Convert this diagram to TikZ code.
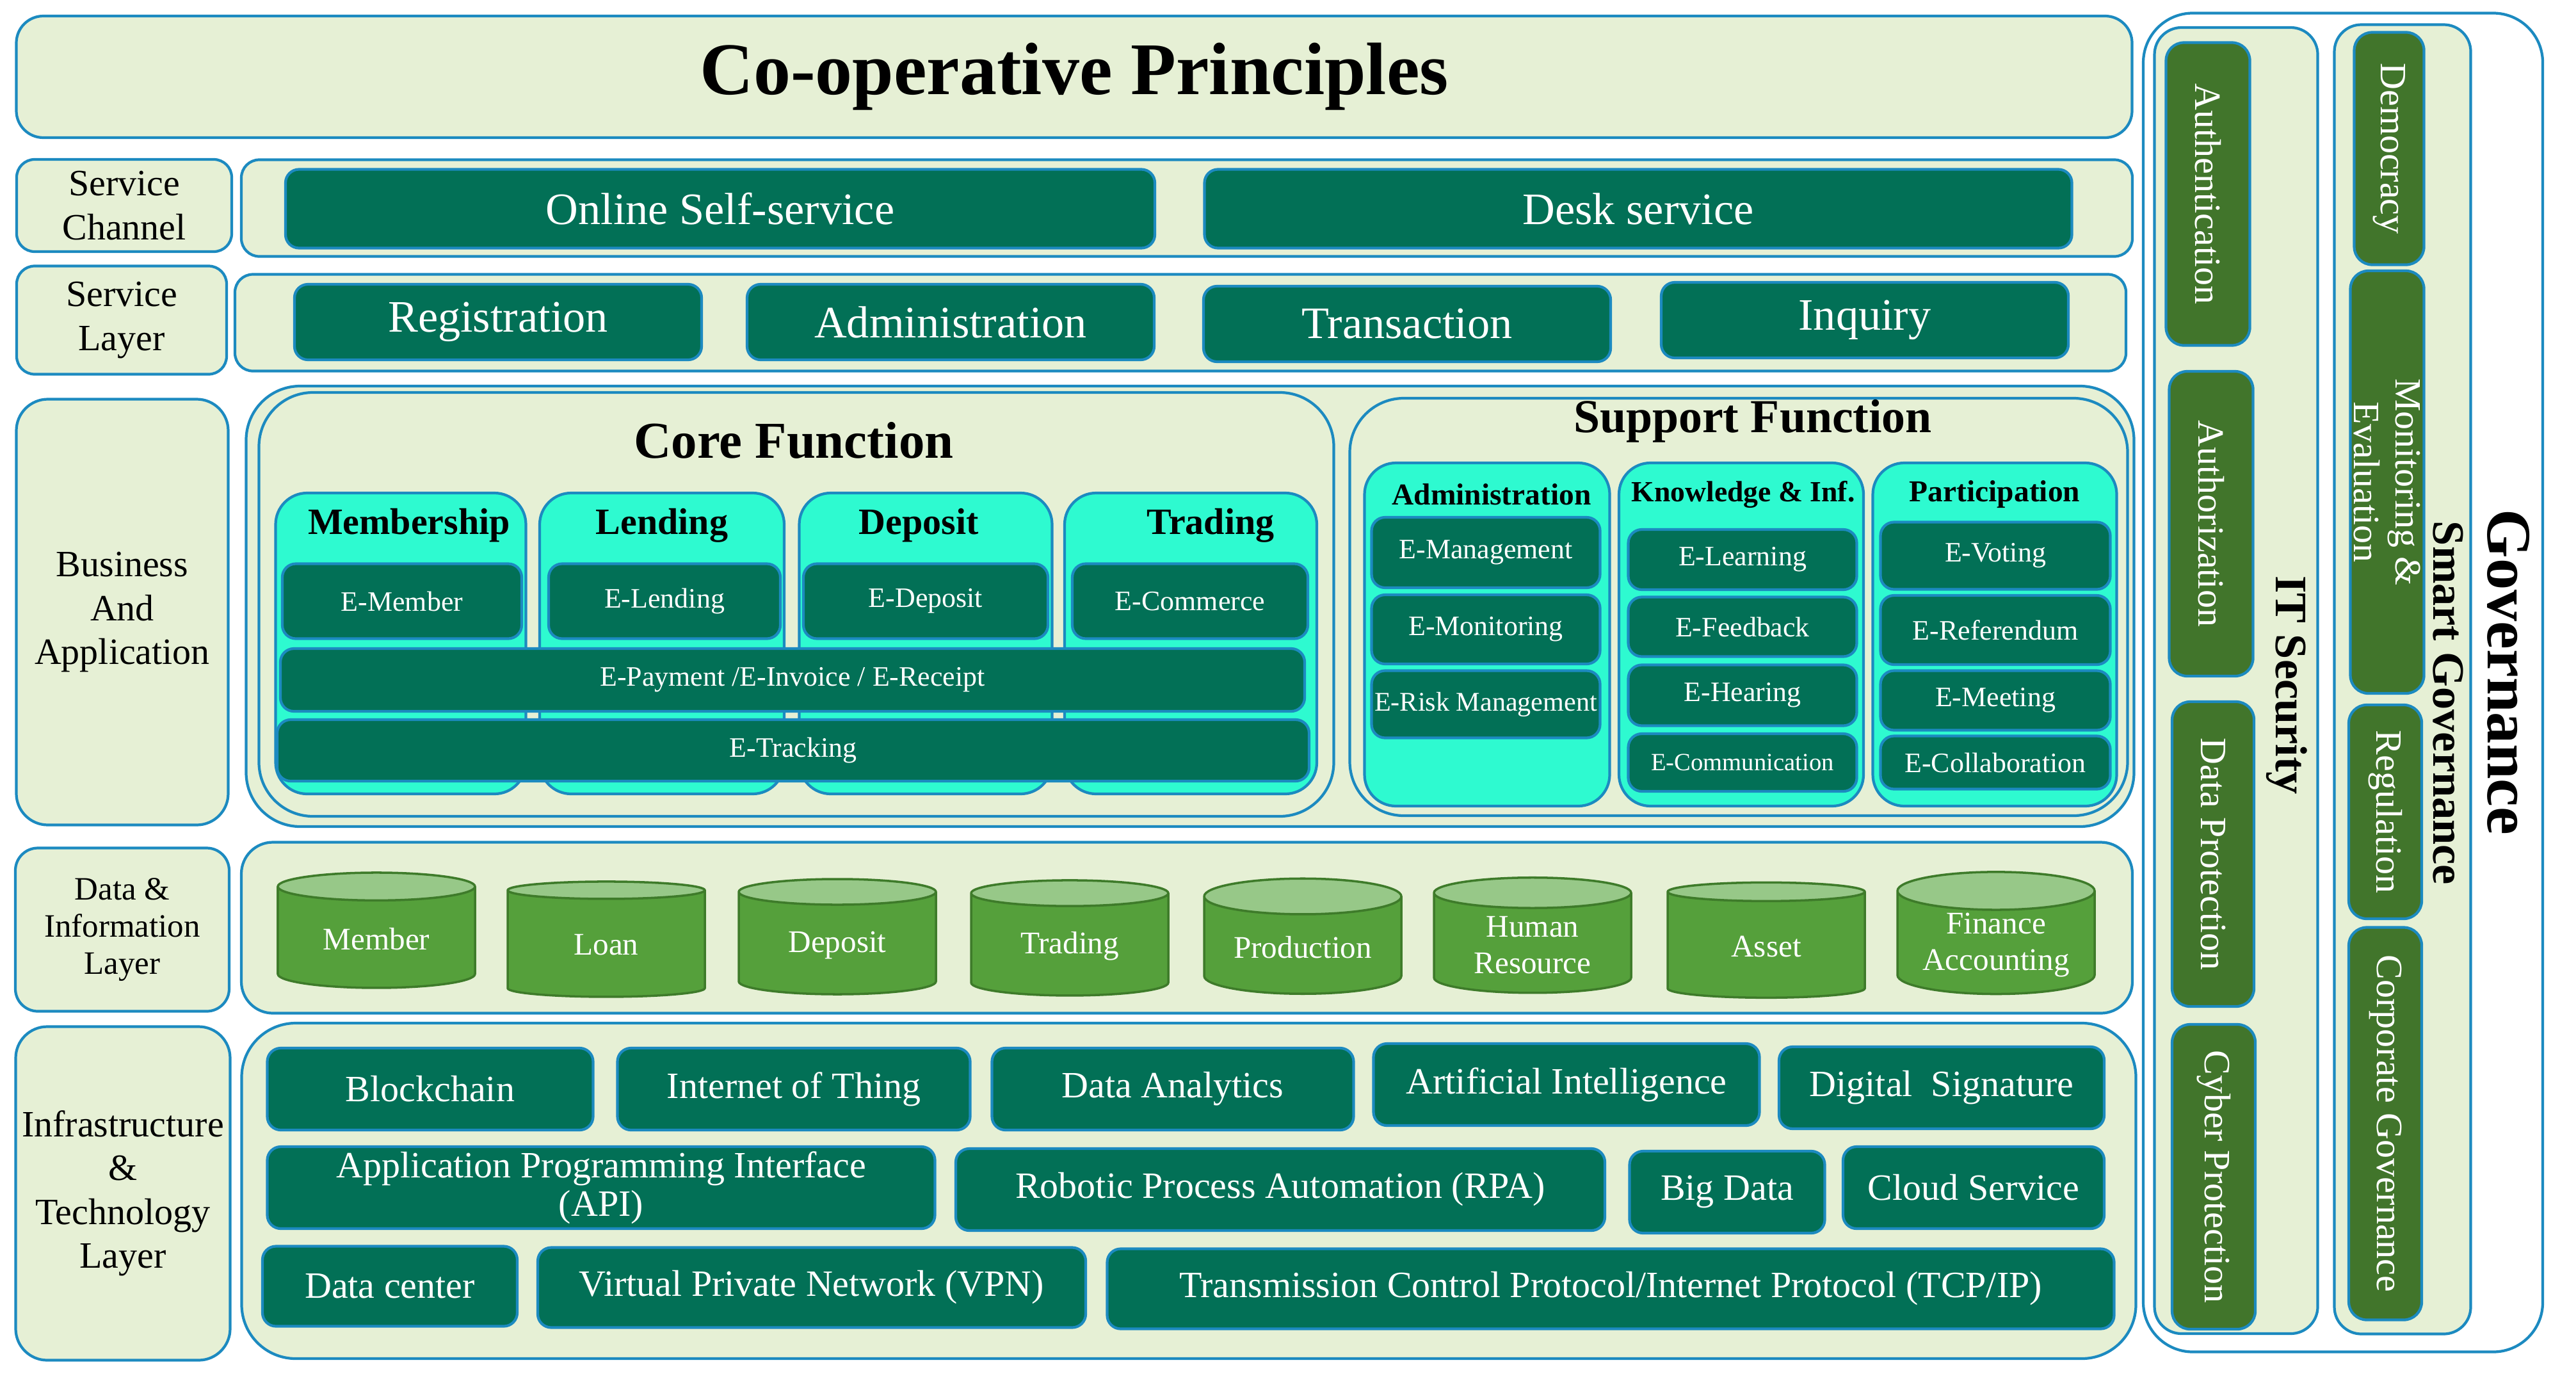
\documentclass[tikz,border=0pt]{standalone}
\usepackage{fontspec}
\setmainfont{Liberation Serif}
\usetikzlibrary{shapes.geometric}
\definecolor{pale}{HTML}{E6F0D5}
\definecolor{edge}{HTML}{1C8AC0}
\definecolor{deepteal}{HTML}{027056}
\definecolor{aqua}{HTML}{2EFAD0}
\definecolor{leaf}{HTML}{41752B}
\definecolor{dbbody}{HTML}{55A03B}
\definecolor{dbtop}{HTML}{97C888}
\definecolor{dbedge}{HTML}{3E7B2A}
\newcommand{\labfont}{\fontsize{16.5pt}{19.5pt}\selectfont}
\newcommand{\efont}{\fontsize{12.5pt}{14pt}\selectfont}
\tikzset{
  panel/.style={draw=edge, line width=1.2pt, rounded corners=8pt, fill=pale,
    align=center, inner sep=2pt, text=black, font=\labfont},
  bigpanel/.style={draw=edge, line width=1.2pt, rounded corners=24pt, fill=pale},
  tbox/.style={draw=edge, line width=1.2pt, rounded corners=6pt, fill=deepteal,
    text=white, align=center, inner sep=1pt},
  col/.style={draw=edge, line width=1.2pt, rounded corners=14pt, fill=aqua},
  gbox/.style={draw=edge, line width=1.2pt, rounded corners=8pt, fill=leaf, text=white,
    rotate=-90, align=center, inner sep=1pt, font=\fontsize{16.5pt}{18.5pt}\selectfont},
  db/.style={cylinder, shape border rotate=90, aspect=0.25, draw=dbedge, line width=1pt,
    cylinder uses custom fill, cylinder body fill=dbbody, cylinder end fill=dbtop,
    text=white, align=center, inner sep=1pt, minimum width=3.08cm, minimum height=1.80cm,
    font=\fontsize{14pt}{16pt}\selectfont},
  chead/.style={font=\bfseries\fontsize{16.5pt}{19pt}\selectfont},
  shead/.style={font=\bfseries\fontsize{13.5pt}{16pt}\selectfont},
  svc/.style={tbox, font=\fontsize{20pt}{24pt}\selectfont},
  infra/.style={tbox, font=\fontsize{16.5pt}{17pt}\selectfont},
}

\begin{document}
\begin{tikzpicture}
    \useasboundingbox (0,0) rectangle (40.24,-21.56);
    \node[panel, rounded corners=12pt, minimum width=33.05cm, minimum height=1.90cm,
      font=\bfseries\fontsize{33pt}{38pt}\selectfont] (title) at (16.78,-1.20) {Co-operative Principles};

    \node[panel, minimum width=3.36cm, minimum height=1.44cm] (chanlab) at (1.94,-3.21) {Service\\Channel};
    \node[panel, minimum width=3.28cm, minimum height=1.69cm] (servlab) at (1.90,-5.00) {Service\\Layer};
    \node[panel, rounded corners=14pt, minimum width=3.31cm, minimum height=6.65cm] (bizlab) at (1.91,-9.56) {Business\\And\\Application};
    \node[panel, rounded corners=10pt, minimum width=3.34cm, minimum height=2.55cm,
      font=\fontsize{14.5pt}{16.5pt}\selectfont] (datalab) at (1.91,-14.52) {Data \&\\Information\\Layer};
    \node[panel, rounded corners=14pt, minimum width=3.35cm, minimum height=5.21cm] (infralab) at (1.92,-18.64) {Infrastructure\\\&\\Technology\\Layer};

    \node[panel, minimum width=29.54cm, minimum height=1.51cm] (chanrow) at (18.54,-3.25) {};
    \node[panel, minimum width=29.54cm, minimum height=1.51cm] (servrow) at (18.44,-5.04) {};
    \node[bigpanel, minimum width=29.49cm, minimum height=6.88cm] (bizrow) at (18.59,-9.47) {};
    \node[panel, rounded corners=14pt, minimum width=29.54cm, minimum height=2.67cm] (datarow) at (18.54,-14.49) {};
    \node[bigpanel, minimum width=29.59cm, minimum height=5.24cm] (infrarow) at (18.57,-18.60) {};

    \node[svc, minimum width=13.58cm, minimum height=1.23cm] (online) at (11.25,-3.26) {Online Self-service};
    \node[svc, minimum width=13.55cm, minimum height=1.23cm] (desk) at (25.59,-3.26) {Desk service};
    \node[svc, minimum width=6.36cm, minimum height=1.18cm] (reg) at (7.78,-5.03) {Registration};
    \node[svc, minimum width=6.36cm, minimum height=1.18cm] (adm) at (14.85,-5.03) {Administration};
    \node[svc, minimum width=6.36cm, minimum height=1.18cm] (trans) at (21.98,-5.06) {Transaction};
    \node[svc, minimum width=6.36cm, minimum height=1.18cm] (inq) at (29.13,-5.00) {Inquiry};

    \node[bigpanel, minimum width=16.79cm, minimum height=6.62cm] (core) at (12.44,-9.44) {};
    \node[font=\bfseries\fontsize{23pt}{27pt}\selectfont] (coretitle) at (12.40,-6.88) {Core Function};
    \node[col, minimum width=3.91cm, minimum height=4.70cm] (memcol) at (6.26,-10.05) {};
    \node[col, minimum width=3.82cm, minimum height=4.70cm] (lendcol) at (10.34,-10.05) {};
    \node[col, minimum width=3.95cm, minimum height=4.70cm] (depcol) at (14.46,-10.05) {};
    \node[col, minimum width=3.94cm, minimum height=4.70cm] (tradecol) at (18.60,-10.05) {};
    \node[chead] (memhead) at (6.39,-8.21) {Membership};
    \node[chead] (lendhead) at (10.34,-8.21) {Lending};
    \node[chead] (dephead) at (14.35,-8.21) {Deposit};
    \node[chead] (tradehead) at (18.91,-8.21) {Trading};
    \node[tbox, font=\efont, minimum width=3.74cm, minimum height=1.17cm] (emember) at (6.28,-9.39) {E-Member};
    \node[tbox, font=\efont, minimum width=3.62cm, minimum height=1.17cm] (elend) at (10.38,-9.39) {E-Lending};
    \node[tbox, font=\efont, minimum width=3.82cm, minimum height=1.17cm] (edep) at (14.46,-9.39) {E-Deposit};
    \node[tbox, font=\efont, minimum width=3.68cm, minimum height=1.17cm] (ecom) at (18.59,-9.39) {E-Commerce};
    \node[tbox, font=\efont, minimum width=16.00cm, minimum height=0.98cm] (epay) at (12.38,-10.62) {E-Payment /E-Invoice / E-Receipt};
    \node[tbox, font=\efont, minimum width=16.12cm, minimum height=0.96cm] (etrack) at (12.39,-11.72) {E-Tracking};

    \node[bigpanel, minimum width=12.15cm, minimum height=6.52cm] (support) at (27.16,-9.48) {};
    \node[font=\bfseries\fontsize{21pt}{25pt}\selectfont] (suptitle) at (27.38,-6.58) {Support Function};
    \node[col, minimum width=3.83cm, minimum height=5.36cm] (admcol) at (23.23,-9.91) {};
    \node[col, minimum width=3.82cm, minimum height=5.36cm] (knowcol) at (27.20,-9.91) {};
    \node[col, minimum width=3.81cm, minimum height=5.36cm] (partcol) at (31.16,-9.91) {};
    \node[shead] (admhead) at (23.30,-7.72) {Administration};
    \node[shead, font=\bfseries\fontsize{13pt}{16pt}\selectfont] (knowhead) at (27.23,-7.72) {Knowledge \& Inf.};
    \node[shead] (parthead) at (31.16,-7.72) {Participation};
    \node[tbox, font=\efont, minimum width=3.57cm, minimum height=1.10cm] (emanage) at (23.21,-8.63) {E-Management};
    \node[tbox, font=\efont, minimum width=3.57cm, minimum height=1.08cm] (emonitor) at (23.21,-9.83) {E-Monitoring};
    \node[tbox, font=\fontsize{12pt}{14pt}\selectfont, minimum width=3.57cm, minimum height=1.05cm] (erisk) at (23.21,-11.00) {E-Risk Management};
    \node[tbox, font=\efont, minimum width=3.57cm, minimum height=0.94cm] (elearn) at (27.22,-8.74) {E-Learning};
    \node[tbox, font=\efont, minimum width=3.57cm, minimum height=0.93cm] (efeed) at (27.22,-9.79) {E-Feedback};
    \node[tbox, font=\efont, minimum width=3.57cm, minimum height=0.95cm] (ehear) at (27.22,-10.86) {E-Hearing};
    \node[tbox, font=\fontsize{11pt}{13pt}\selectfont, minimum width=3.57cm, minimum height=0.90cm] (ecomm) at (27.22,-11.91) {E-Communication};
    \node[tbox, font=\efont, minimum width=3.59cm, minimum height=1.05cm] (evote) at (31.17,-8.68) {E-Voting};
    \node[tbox, font=\efont, minimum width=3.59cm, minimum height=1.08cm] (eref) at (31.17,-9.84) {E-Referendum};
    \node[tbox, font=\efont, minimum width=3.59cm, minimum height=0.93cm] (emeet) at (31.17,-10.94) {E-Meeting};
    \node[tbox, font=\efont, minimum width=3.59cm, minimum height=0.83cm] (ecollab) at (31.17,-11.91) {E-Collaboration};

    \node[db] (dbmember) at (5.88,-14.67) {Member};
    \node[db] (dbloan) at (9.47,-14.76) {Loan};
    \node[db] (dbdeposit) at (13.08,-14.76) {Deposit};
    \node[db] (dbtrading) at (16.71,-14.78) {Trading};
    \node[db] (dbproduction) at (20.35,-14.80) {Production};
    \node[db] (dbhuman) at (23.94,-14.76) {Human\\Resource};
    \node[db] (dbasset) at (27.59,-14.78) {Asset};
    \node[db] (dbfinance) at (31.18,-14.76) {Finance\\Accounting};

    \node[infra, minimum width=5.09cm, minimum height=1.28cm] (blockchain) at (6.72,-17.01) {Blockchain};
    \node[infra, minimum width=5.51cm, minimum height=1.28cm] (iot) at (12.40,-17.01) {Internet of Thing};
    \node[infra, minimum width=5.65cm, minimum height=1.28cm] (analytics) at (18.32,-17.01) {Data Analytics};
    \node[infra, minimum width=6.03cm, minimum height=1.28cm] (ai) at (24.47,-16.94) {Artificial Intelligence};
    \node[infra, minimum width=5.08cm, minimum height=1.28cm] (signature) at (30.33,-16.99) {Digital\ \ Signature};
    \node[infra, minimum width=10.43cm, minimum height=1.28cm] (api) at (9.39,-18.55) {Application Programming Interface\\(API)};
    \node[infra, minimum width=10.14cm, minimum height=1.28cm] (rpa) at (20.00,-18.58) {Robotic Process Automation (RPA)};
    \node[infra, minimum width=3.05cm, minimum height=1.28cm] (bigdata) at (26.98,-18.62) {Big Data};
    \node[infra, minimum width=4.08cm, minimum height=1.28cm] (cloud) at (30.83,-18.55) {Cloud Service};
    \node[infra, minimum width=3.98cm, minimum height=1.25cm] (datacenter) at (6.09,-20.09) {Data center};
    \node[infra, minimum width=8.56cm, minimum height=1.25cm] (vpn) at (12.68,-20.11) {Virtual Private Network (VPN)};
    \node[infra, minimum width=15.73cm, minimum height=1.25cm] (tcpip) at (25.16,-20.13) {Transmission Control Protocol/Internet Protocol (TCP/IP)};

    \node[draw=edge, line width=1.2pt, rounded corners=22pt, fill=white,
      minimum width=6.24cm, minimum height=20.91cm] (govframe) at (36.60,-10.66) {};
    \node[panel, rounded corners=12pt, minimum width=2.55cm, minimum height=20.40cm] (itsec) at (34.93,-10.63) {};
    \node[panel, rounded corners=12pt, minimum width=2.13cm, minimum height=20.45cm] (smartgov) at (37.53,-10.61) {};
    \node[rotate=-90, font=\bfseries\fontsize{28pt}{32pt}\selectfont] (govtitle) at (39.19,-10.50) {Governance};
    \node[rotate=-90, font=\bfseries\fontsize{20pt}{24pt}\selectfont] (ittitle) at (35.72,-10.70) {IT Security};
    \node[rotate=-90, font=\bfseries\fontsize{20pt}{24pt}\selectfont] (smarttitle) at (38.24,-10.98) {Smart Governance};
    \node[gbox, minimum width=4.73cm, minimum height=1.31cm] (authn) at (34.49,-3.03) {Authentication};
    \node[gbox, minimum width=4.76cm, minimum height=1.31cm] (authz) at (34.54,-8.18) {Authorization};
    \node[gbox, minimum width=4.76cm, minimum height=1.28cm] (dataprot) at (34.57,-13.34) {Data Protection};
    \node[gbox, minimum width=4.76cm, minimum height=1.30cm] (cyber) at (34.58,-18.38) {Cyber Protection};
    \node[gbox, minimum width=3.63cm, minimum height=1.09cm] (democracy) at (37.32,-2.32) {Democracy};
    \node[gbox, minimum width=6.60cm, minimum height=1.15cm] (monitor) at (37.29,-7.53) {Monitoring \&\\Evaluation};
    \node[gbox, minimum width=3.34cm, minimum height=1.14cm] (regulation) at (37.26,-12.68) {Regulation};
    \node[gbox, minimum width=6.13cm, minimum height=1.14cm] (corpgov) at (37.26,-17.55) {Corporate Governance};
  \end{tikzpicture}
\end{document}
